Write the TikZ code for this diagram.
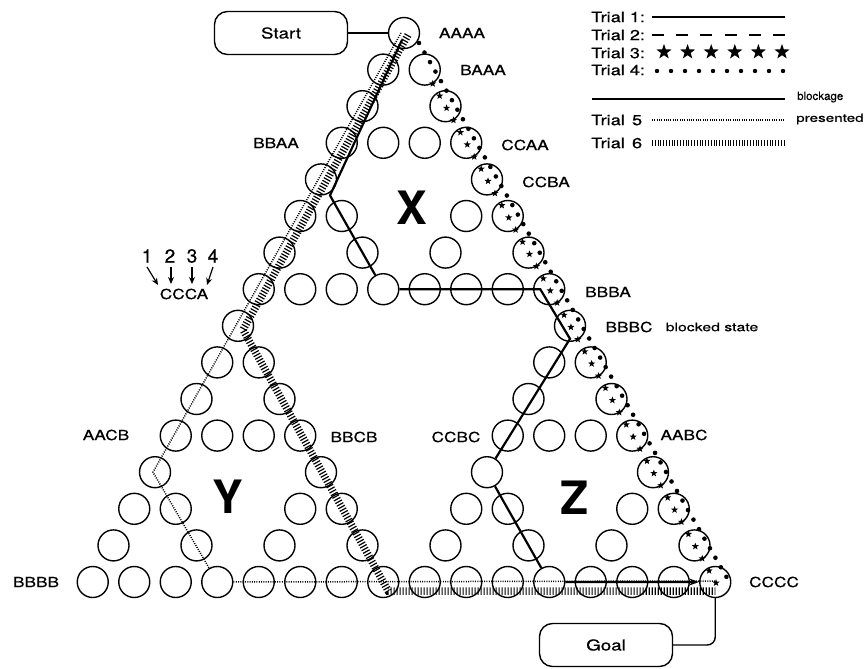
\documentclass[tikz,border=0pt]{standalone}
\usepackage{fontspec}
\setmainfont{TeX Gyre Heros}
\newfontfamily\labfont[FakeStretch=1.25,FakeBold=0.6]{TeX Gyre Heros}
\newfontfamily\widefont[FakeStretch=1.35,FakeBold=0.4]{TeX Gyre Heros}
\newfontfamily\plainfont[FakeBold=0.4]{TeX Gyre Heros}
\usetikzlibrary{calc,shapes.geometric,decorations.markings,arrows.meta}
\begin{document}
\begin{tikzpicture}[x=1pt,y=-1pt,
  st/.style={circle,draw,line width=1.4pt,minimum size=31pt,inner sep=0pt},
  lab/.style={font=\labfont\fontsize{13.8}{15}\selectfont,inner sep=0pt},
  leg/.style={font=\labfont\fontsize{14.5}{16}\selectfont,inner sep=0pt,anchor=west},
  big/.style={font=\fontsize{46}{46}\selectfont\bfseries,inner sep=0pt},
  num/.style={font=\plainfont\fontsize{19}{19}\selectfont,inner sep=0pt},
  box/.style={draw,line width=1.4pt,rounded corners=13pt,minimum width=133pt,minimum height=43pt,font=\labfont\fontsize{15}{17}\selectfont},
  sstar/.style={star,star points=5,star point ratio=2.4,fill=black,inner sep=0pt,minimum size=7.5pt},
  lstar/.style={star,star points=5,star point ratio=2.5,fill=black,inner sep=0pt,minimum size=16pt},
  t1/.style={line width=2.2pt},
  t2/.style={line width=2.6pt,dash pattern=on 12pt off 12.2pt},
  t4/.style={line width=4.6pt,line cap=round,dash pattern=on 0pt off 11pt},
  t4leg/.style={line width=4.4pt,line cap=round,dash pattern=on 0pt off 14pt},
  t5/.style={line width=1.5pt,dash pattern=on 1pt off 1.3pt},
  t6/.style={line width=7.5pt,dash pattern=on 1.2pt off 1.8pt},
  t6leg/.style={line width=6pt,dash pattern=on 1pt off 1.8pt},
  conn/.style={line width=1.4pt},
]
\useasboundingbox (0,0) rectangle (865,669);

% state nodes (Sierpinski arrangement, 81 states)
\foreach \a in {0,1,2}{
 \foreach \b in {0,1,2}{
  \foreach \c in {0,1,2}{
   \foreach \d in {0,1,2}{
    \pgfmathtruncatemacro\rr{8*(\a>0)+4*(\b>0)+2*(\c>0)+(\d>0)}
    \pgfmathtruncatemacro\kk{8*(\a==2)+4*(\b==2)+2*(\c==2)+(\d==2)}
    \node[st] (n-\rr-\kk) at ({404+(\kk-\rr/2)*41.5},{33+\rr*36.6}) {};
}}}}

% state labels
\node[lab] (lAAAA) at (462,33) {AAAA};
\node[lab] (lBAAA) at (483,70) {BAAA};
\node[lab] (lBBAA) at (276,143) {BBAA};
\node[lab] (lCCAA) at (525,145) {CCAA};
\node[lab] (lCCBA) at (546,182) {CCBA};
\node[lab] (lBBBA) at (608,292) {BBBA};
\node[lab] (lBBBC) at (629,327) {BBBC};
\node[font=\widefont\fontsize{11.7}{13}\selectfont,inner sep=0pt] (lblk) at (712,327) {blocked state};
\node[lab] (lAABC) at (684,435) {AABC};
\node[lab] (lCCBC) at (456,437) {CCBC};
\node[lab] (lBBCB) at (354,437) {BBCB};
\node[lab] (lAACB) at (106,435) {AACB};
\node[lab] (lBBBB) at (36,582) {BBBB};
\node[lab] (lCCCC) at (774,582) {CCCC};

% notation key
\node[lab] (lCCCA) at (184,294) {CCCA};
\node[num] (d1) at (147,256) {1};
\node[num] (d2) at (170,256) {2};
\node[num] (d3) at (192,256) {3};
\node[num] (d4) at (213,256) {4};
\draw[line width=1.2pt,-{Stealth[length=7pt,width=6pt]}] (d1.south) ++(0,4) coordinate (a1s) -- (158,285) coordinate (a1e);
\draw[line width=1.2pt,-{Stealth[length=7pt,width=6pt]}] (d2.south) ++(1,4) coordinate (a2s) -- (171,284) coordinate (a2e);
\draw[line width=1.2pt,-{Stealth[length=7pt,width=6pt]}] (d3.south) ++(0,4) coordinate (a3s) -- (192,284) coordinate (a3e);
\draw[line width=1.2pt,-{Stealth[length=7pt,width=6pt]}] (d4.south) ++(0,4) coordinate (a4s) -- (207,285) coordinate (a4e);

% sub-triangle letters
\node[big] (X) at (412,208) {X};
\node[big] (Y) at (228,497) {Y};
\node[big] (Z) at (575,498) {Z};

% Start / Goal
\node[box] (start) at (281,33) {Start};
\node[box] (goal) at (606,645) {Goal};
\draw[conn] (start.east) -- (n-0-0.west);
\draw[conn,rounded corners=8pt] (n-15-15.south) |- (goal.east);

% Trial 4: big dots along right edge
\draw[t4] ($(n-0-0)+(15,10)$) -- ($(n-15-15)+(13,-2)$);
% Trial 3: stars along right edge
\path[decoration={markings,mark=between positions 0 and 1 step 14pt with {\node[sstar]{};}},decorate]
  (n-1-1) -- ($(n-15-15)+(2,3)$);

% Trial 5: fine dotted
\draw[t5] ($(n-0-0)+(-3,0)$) -- ($(n-12-0)+(-2,0)$) -- (n-15-3) -- ($(n-15-15)+(0,-1)$);

% Trial 6: hatched
\draw[t6] ($(n-0-0)+(4,2)$) -- ($(n-8-0)+(5,4)$) -- ($(n-15-7)+(5,9)$) -- ($(n-15-15)+(0,9)$);

% Trial 1: solid
\draw[t1,-{Stealth[length=10pt,width=7pt]}] ($(n-0-0)+(-2,7)$) -- ($(n-4-0)+(9,16)$) -- (n-7-3)
  -- ($(n-7-7)+(-9,0)$) -- ($(n-8-8)+(0,13)$) -- (n-12-8) -- (n-15-11) -- (n-15-15);

% legend
\node[leg] (tr1) at (591,17) {Trial 1:};
\draw[t1] (652,17) -- (785,17);
\node[leg] (tr2) at (591,35) {Trial 2:};
\draw[t2] (652,35) -- (785,35);
\node[leg] (tr3) at (591,53) {Trial 3:};
\foreach \i in {0,...,5}{\node[lstar] at ({664+23.6*\i},52) {};}
\node[leg] (tr4) at (591,70) {Trial 4:};
\draw[t4leg] (657,71) -- (790,71);
\draw[line width=2.2pt] (592,99) -- (785,99);
\node[font=\plainfont\fontsize{11.5}{13}\selectfont,inner sep=0pt,anchor=west] (blk) at (797,97) {blockage};
\node[font=\widefont\fontsize{11.3}{13}\selectfont,inner sep=0pt,anchor=west] (pre) at (796,119) {presented};
\node[leg] (tr5) at (591,120) {Trial\hspace{0.5em}5};
\draw[t5] (652,120) -- (785,120);
\node[leg] (tr6) at (591,143) {Trial\hspace{0.5em}6};
\draw[t6leg] (652,143) -- (785,143);
\end{tikzpicture}
\end{document}
